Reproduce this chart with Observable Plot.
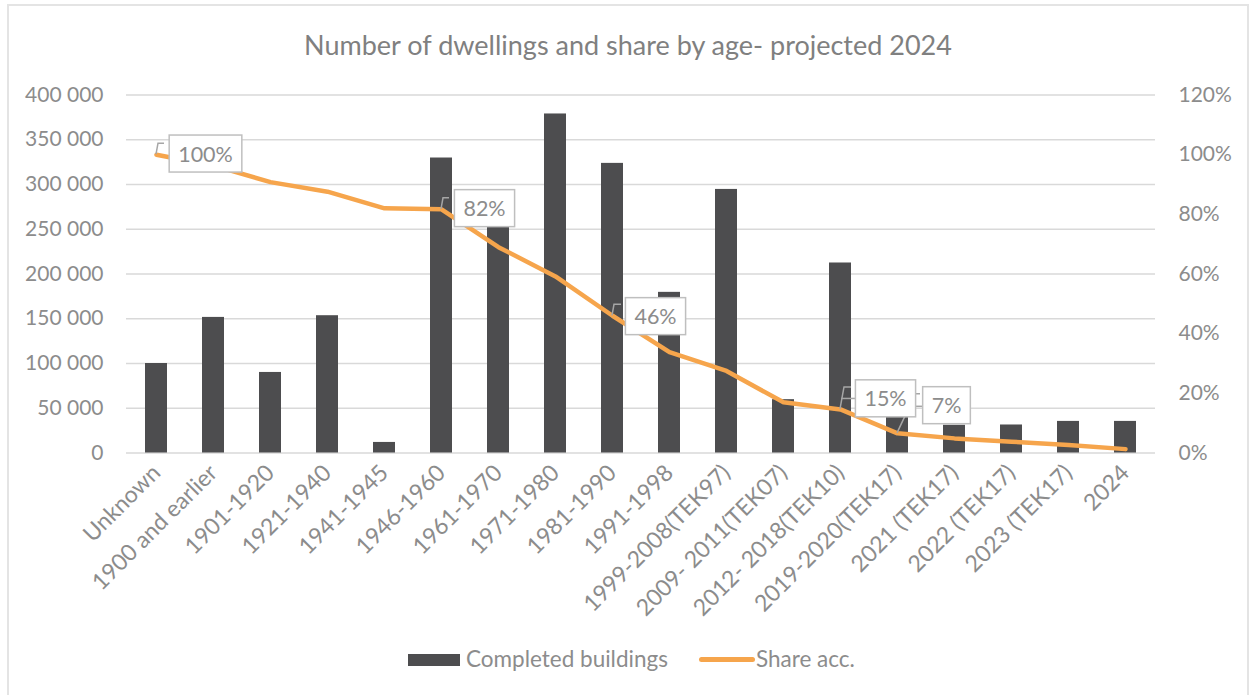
<!DOCTYPE html>
<html><head><meta charset="utf-8">
<script src="https://cdn.jsdelivr.net/npm/d3@7"></script>
<script src="https://cdn.jsdelivr.net/npm/@observablehq/plot@0.6"></script>
<style>
body{margin:0;background:#fff;}
#wrap{position:relative;width:1251px;height:695px;overflow:hidden;font-family:Lato,sans-serif;background:#fff;}
#frame{position:absolute;left:7px;top:4px;width:1242px;height:720px;border:2px solid #e4e4e4;box-sizing:border-box;}
#title{position:absolute;left:0;top:29px;width:1256px;text-align:center;font-size:27px;color:#808080;line-height:32px;}
.layer{position:absolute;left:0;top:0;}
.leg{position:absolute;top:646px;height:26px;line-height:26px;font-size:22.5px;color:#8c8c8c;}
</style></head>
<body>
<div id="wrap">
  <div id="frame"></div>
  <div id="title">Number of dwellings and share by age- projected 2024</div>
  <div id="p1" class="layer"></div>
  <div id="p2" class="layer"></div>
  <div class="leg" style="left:408px;"><span style="display:inline-block;width:52px;height:12px;background:#4d4d4f;vertical-align:middle;margin-top:-3px;"></span></div>
  <div class="leg" style="left:466px;">Completed buildings</div>
  <div class="leg" style="left:699px;"><span style="display:inline-block;width:56px;height:5px;border-radius:3px;background:#F6A54C;vertical-align:middle;margin-top:-3px;"></span></div>
  <div class="leg" style="left:756px;">Share acc.</div>
</div>
<script>
const categories = ["Unknown","1900 and earlier","1901-1920","1921-1940","1941-1945","1946-1960","1961-1970","1971-1980","1981-1990","1991-1998","1999-2008(TEK97)","2009- 2011(TEK07)","2012- 2018(TEK10)","2019-2020(TEK17)","2021 (TEK17)","2022 (TEK17)","2023 (TEK17)","2024"];
const completed = [100000,151500,90000,153400,11800,329600,265000,378800,323600,179500,294500,59600,212300,45000,31000,31300,35300,35300];
const shareAcc = [1.000,0.963,0.908,0.876,0.820,0.817,0.690,0.592,0.460,0.338,0.275,0.170,0.146,0.066,0.049,0.038,0.027,0.013];
const labelledCats = ["Unknown","1946-1960","1981-1990","2012- 2018(TEK10)","2019-2020(TEK17)"];
const leftTicks = [0,50000,100000,150000,200000,250000,300000,350000,400000];
const rightTicks = [0,0.2,0.4,0.6,0.8,1.0,1.2];

// layout for data labels (pixel offsets from the point)
const labelLayout = {
  "Unknown": {dx:49, dy:0, leader:[[[0,0],[2,-11],[8,-11]]]},
  "1946-1960": {dx:43, dy:0, leader:[[[0,0],[2,-11],[8,-11]]]},
  "1981-1990": {dx:43, dy:1.5, leader:[[[0,0],[2,-11],[9,-11]]]},
  "2012- 2018(TEK10)": {dx:45, dy:-10, leader:[[[0,0],[4,-22],[11,-22]],[[1,-10.5],[16,-10.5]]]},
  "2019-2020(TEK17)": {dx:49, dy:-27, leader:[[[0,0],[18.5,-39],[23,-39]],[[16.5,-26.5],[27,-26.5]]]}
};

const data = categories.map((c,i)=>({cat:c, value:completed[i], share:shareAcc[i]}));
const W = 1251, H = 615;
const common = {width:W, height:H, marginTop:94.5, marginBottom:H-452.5, marginLeft:126, marginRight:96,
  style:{background:"transparent", fontFamily:"Lato, sans-serif", fontSize:"21px", color:"#8c8c8c", overflow:"visible"}};
const xScale = {domain:categories, paddingInner:0.61, paddingOuter:0.305, label:null};
const spaceFmt = d => d3.format(",")(d).replace(/,/g," ");

const p1 = Plot.plot({...common,
  x:{...xScale},
  y:{domain:[0,400000], label:null},
  marks:[
    Plot.gridY(leftTicks,{stroke:"#d9d9d9", strokeOpacity:1, strokeWidth:1.3}),
    Plot.barY(data,{x:"cat", y:"value", fill:"#4d4d4f"}),
    Plot.axisY(leftTicks,{tickSize:0, tickPadding:23, tickFormat:spaceFmt, label:null, fontSize:21}),
    Plot.axisX({tickSize:0, tickPadding:16, tickRotate:-45, label:null, fontSize:23})
  ]});
document.getElementById("p1").appendChild(p1);

const labelled = data.filter(d=>labelledCats.includes(d.cat));
const p2 = Plot.plot({...common,
  x:{...xScale, axis:null},
  y:{domain:[0,1.2], label:null},
  marks:[
    Plot.line(data,{x:"cat", y:"share", stroke:"#F6A54C", strokeWidth:4.5, strokeLinecap:"round", strokeLinejoin:"round"}),
    Plot.axisY(rightTicks,{anchor:"right", tickSize:0, tickPadding:23, tickFormat:d=>Math.round(d*100)+"%", label:null, fontSize:21}),
    ...labelled.map(d=>Plot.text([d],{x:"cat", y:"share", text:e=>Math.round(e.share*100)+"%", dx:labelLayout[d.cat].dx, dy:labelLayout[d.cat].dy, fill:"#8c8c8c", fontSize:21.5}))
  ]});
document.getElementById("p2").appendChild(p2);

// leaders + boxes
const xs = p2.scale("x"), ys = p2.scale("y");
const bw = xs.bandwidth || 0;
const firstText = p2.querySelector('g[aria-label="text"]');
const leaderG = document.createElementNS("http://www.w3.org/2000/svg","g");
const boxG = document.createElementNS("http://www.w3.org/2000/svg","g");
firstText.parentNode.insertBefore(leaderG, firstText);
firstText.parentNode.insertBefore(boxG, firstText);
labelled.forEach(d=>{
  const px = xs.apply(d.cat) + bw/2, py = ys.apply(d.share);
  labelLayout[d.cat].leader.forEach(seg=>{
    d3.select(leaderG).append("path")
      .attr("d", d3.line()(seg.map(([a,b])=>[px+a, py+b])))
      .attr("fill","none").attr("stroke","#a6a6a6").attr("stroke-width",1.5);
  });
});
const svgRect = p2.getBoundingClientRect();
p2.querySelectorAll('g[aria-label="text"] text').forEach(t=>{
  const r = t.getBoundingClientRect();
  const cx = r.left - svgRect.left + r.width/2, cy = r.top - svgRect.top + r.height/2;
  const w = r.width + 18, h = 37;
  d3.select(boxG).append("rect").attr("x", cx - w/2).attr("y", cy - h/2).attr("width", w).attr("height", h)
    .attr("fill","#fff").attr("stroke","#bfbfbf").attr("stroke-width",1.5);
});
</script>
</body></html>
